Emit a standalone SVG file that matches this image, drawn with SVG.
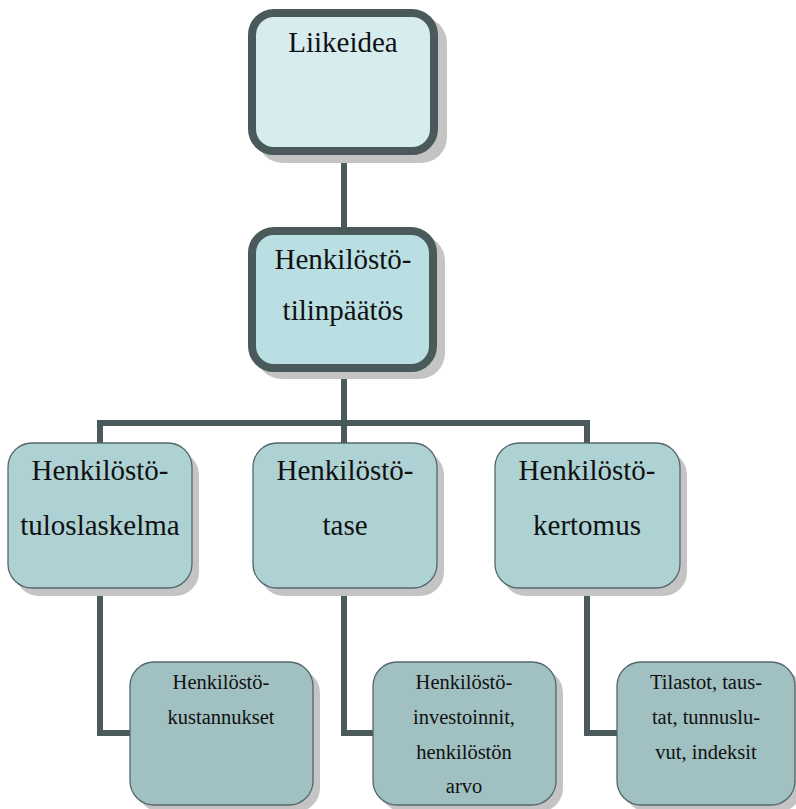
<svg xmlns="http://www.w3.org/2000/svg" width="796" height="809" viewBox="0 0 796 809">
<defs>
<style>
.shadow{fill:#c4c4c4}
.big{stroke:#4a5a5b;stroke-width:8}
.small{stroke:#55676a;stroke-width:1.3}
.conn{fill:none;stroke:#4a5a5b;stroke-width:6;stroke-linejoin:miter}
text{font-family:'Liberation Serif','Times New Roman',Tinos,'Noto Serif','DejaVu Serif',FreeSerif,Georgia,serif;fill:#111;text-anchor:middle}
.t1{font-size:29px}
.t2{font-size:20.5px}
</style>
</defs>
<rect width="796" height="809" fill="#ffffff"/>
<g id="connectors">
<path class="conn" d="M344 155 V231"/>
<path class="conn" d="M344 370 V423 M100 443 V423 H587 V443 M344 423 V443"/>
<path class="conn" d="M100 588 V733 H131"/>
<path class="conn" d="M344 588 V733 H374"/>
<path class="conn" d="M587 588 V733 H618"/>
</g>
<g id="node-liikeidea">
<rect class="shadow" x="257" y="17" width="190" height="146" rx="26"/>
<rect class="big" x="252" y="13" width="182" height="138" rx="22" fill="#d7ecef"/>
<text class="t1" x="343" y="52">Liikeidea</text>
</g>
<g id="node-tilinpaatos">
<rect class="shadow" x="256" y="235" width="189" height="144" rx="26"/>
<rect class="big" x="252" y="231" width="181" height="137" rx="22" fill="#b9dfe2"/>
<text class="t1" x="343" y="269">Henkilöstö-</text>
<text class="t1" x="343" y="320">tilinpäätös</text>
</g>
<g id="node-tuloslaskelma">
<rect class="shadow" x="15" y="451" width="184" height="145" rx="24"/>
<rect class="small" x="8" y="443" width="184" height="145" rx="24" fill="#aed1d4"/>
<text class="t1" x="100" y="480">Henkilöstö-</text>
<text class="t1" x="100" y="535">tuloslaskelma</text>
</g>
<g id="node-tase">
<rect class="shadow" x="260" y="451" width="184" height="145" rx="24"/>
<rect class="small" x="253" y="443" width="184" height="145" rx="24" fill="#aed1d4"/>
<text class="t1" x="345" y="480">Henkilöstö-</text>
<text class="t1" x="345" y="535">tase</text>
</g>
<g id="node-kertomus">
<rect class="shadow" x="502" y="451" width="185" height="145" rx="24"/>
<rect class="small" x="495" y="443" width="185" height="145" rx="24" fill="#aed1d4"/>
<text class="t1" x="587" y="480">Henkilöstö-</text>
<text class="t1" x="587" y="535">kertomus</text>
</g>
<g id="node-kustannukset">
<rect class="shadow" x="137" y="669" width="183" height="143" rx="24"/>
<rect class="small" x="130" y="662" width="183" height="143" rx="24" fill="#a0c0c2"/>
<text class="t2" x="221" y="689">Henkilöstö-</text>
<text class="t2" x="221" y="724">kustannukset</text>
</g>
<g id="node-investoinnit">
<rect class="shadow" x="380" y="669" width="183" height="143" rx="24"/>
<rect class="small" x="373" y="662" width="183" height="143" rx="24" fill="#a0c0c2"/>
<text class="t2" x="464" y="689">Henkilöstö-</text>
<text class="t2" x="464" y="724">investoinnit,</text>
<text class="t2" x="464" y="759">henkilöstön</text>
<text class="t2" x="464" y="793">arvo</text>
</g>
<g id="node-tilastot">
<rect class="shadow" x="624" y="669" width="178" height="143" rx="24"/>
<rect class="small" x="617" y="662" width="178" height="143" rx="24" fill="#a0c0c2"/>
<text class="t2" x="706" y="689">Tilastot, taus-</text>
<text class="t2" x="706" y="724">tat, tunnuslu-</text>
<text class="t2" x="706" y="759">vut, indeksit</text>
</g>
</svg>
